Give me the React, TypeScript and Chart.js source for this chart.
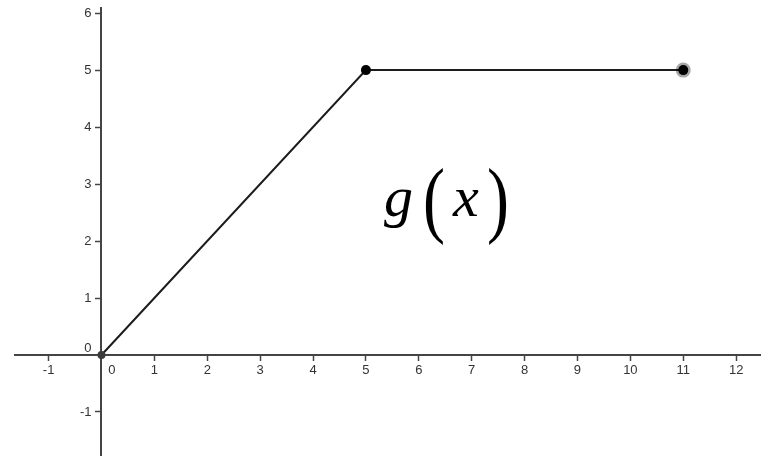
import React, { useEffect, useRef } from 'react';
import { Chart, registerables } from 'chart.js';

Chart.register(...registerables);

// Data: piecewise-linear function g(x)
const xValues = [0, 5, 11];
const yValues = [0, 5, 5];

// Axis ticks and visible ranges
const xTicks = [-1, 0, 1, 2, 3, 4, 5, 6, 7, 8, 9, 10, 11, 12];
const yTicks = [-1, 0, 1, 2, 3, 4, 5, 6];
const xRange = [-1.635, 12.47];
const yRange = [-1.755, 6.09];

// Annotation
const labelName = 'g';
const labelArg = 'x';
const labelPos = { x: 5.34, y: 2.44 };

const AXIS_COLOR = '#444';
const TEXT_COLOR = '#333';
const TICK_FONT = { family: '"Liberation Sans", Arial, sans-serif', size: 13 };

const overlayPlugin = {
  id: 'overlay',
  afterDraw(chart: any) {
    const ctx = chart.ctx;
    const xs = chart.scales.x;
    const ys = chart.scales.y;
    const ox = xs.getPixelForValue(0);
    const oy = ys.getPixelForValue(0);
    ctx.save();
    ctx.font = `${TICK_FONT.size}px ${TICK_FONT.family}`;
    ctx.fillStyle = TEXT_COLOR;

    // x tick labels
    ctx.textAlign = 'center';
    ctx.textBaseline = 'top';
    xs.ticks.forEach((t: any) => {
      const px = xs.getPixelForValue(t.value) + (t.value === 0 ? 10.5 : 0);
      ctx.fillText(String(t.value), px, oy + 9);
    });

    // y tick labels
    ctx.textAlign = 'right';
    ctx.textBaseline = 'middle';
    ys.ticks.forEach((t: any) => {
      const py = ys.getPixelForValue(t.value) + (t.value === 0 ? -7 : 0);
      ctx.fillText(String(t.value), ox - 10, py);
    });

    // g ( x ) annotation
    const lx = xs.getPixelForValue(labelPos.x);
    const ly = ys.getPixelForValue(labelPos.y);
    ctx.fillStyle = '#000';
    ctx.textAlign = 'left';
    ctx.textBaseline = 'alphabetic';
    const italic = 'italic 58px "Liberation Serif", "Times New Roman", serif';
    const upright = '66px "Liberation Serif", "Times New Roman", serif';
    ctx.font = italic;
    ctx.fillText(labelName, lx, ly);
    ctx.fillText(labelArg, lx + 69, ly);
    ctx.font = upright;
    const drawParen = (s: string, px: number) => {
      ctx.save();
      ctx.translate(px, ly + 11.5);
      ctx.scale(1, 1.28);
      ctx.fillText(s, 0, 0);
      ctx.restore();
    };
    drawParen('(', lx + 39);
    drawParen(')', lx + 103);
    ctx.restore();
  },
};

export default function App() {
  const canvasRef = useRef<HTMLCanvasElement | null>(null);

  useEffect(() => {
    document.body.style.margin = '0';
    const canvas = canvasRef.current;
    if (!canvas) return;
    const points = xValues.map((x, i) => ({ x, y: yValues[i] }));
    const last = points.length - 1;
    const chart = new Chart(canvas, {
      type: 'scatter',
      data: {
        datasets: [
          {
            data: points,
            showLine: true,
            borderColor: '#1c1c1c',
            borderWidth: 2,
            pointRadius: points.map((_, i) => (i === 0 ? 4 : 5)),
            pointBackgroundColor: points.map((_, i) => (i === 0 ? '#3c3c3c' : '#000')),
            pointBorderColor: points.map((_, i) => (i === last ? 'rgba(0,0,0,0.35)' : 'rgba(0,0,0,0)')),
            pointBorderWidth: points.map((_, i) => (i === last ? 5 : 0)),
            clip: false,
          } as any,
        ],
      },
      options: {
        responsive: false,
        animation: false,
        layout: { autoPadding: false, padding: { left: 15, top: 8, right: 0, bottom: 2 } },
        plugins: { legend: { display: false }, tooltip: { enabled: false } },
        scales: {
          x: {
            type: 'linear',
            min: xRange[0],
            max: xRange[1],
            position: { y: 0 } as any,
            afterBuildTicks: (scale: any) => {
              scale.ticks = xTicks.map((v) => ({ value: v }));
            },
            grid: {
              drawOnChartArea: false,
              drawTicks: true,
              tickLength: 5,
              tickWidth: 1.5,
              tickColor: (c: any) => (c.tick && c.tick.value === 0 ? 'rgba(0,0,0,0)' : AXIS_COLOR),
            },
            border: { display: true, color: AXIS_COLOR, width: 2 },
            ticks: { display: false },
          },
          y: {
            type: 'linear',
            min: yRange[0],
            max: yRange[1],
            position: { x: 0 } as any,
            afterBuildTicks: (scale: any) => {
              scale.ticks = yTicks.map((v) => ({ value: v }));
            },
            grid: {
              drawOnChartArea: false,
              drawTicks: true,
              tickLength: 5,
              tickWidth: 1.5,
              tickColor: (c: any) => (c.tick && c.tick.value === 0 ? 'rgba(0,0,0,0)' : AXIS_COLOR),
            },
            border: { display: true, color: AXIS_COLOR, width: 2 },
            ticks: { display: false },
          },
        },
      },
      plugins: [overlayPlugin],
    });
    return () => chart.destroy();
  }, []);

  return (
    <div style={{ width: 761, height: 457 }}>
      <canvas ref={canvasRef} width={761} height={457} style={{ display: 'block' }} />
    </div>
  );
}
